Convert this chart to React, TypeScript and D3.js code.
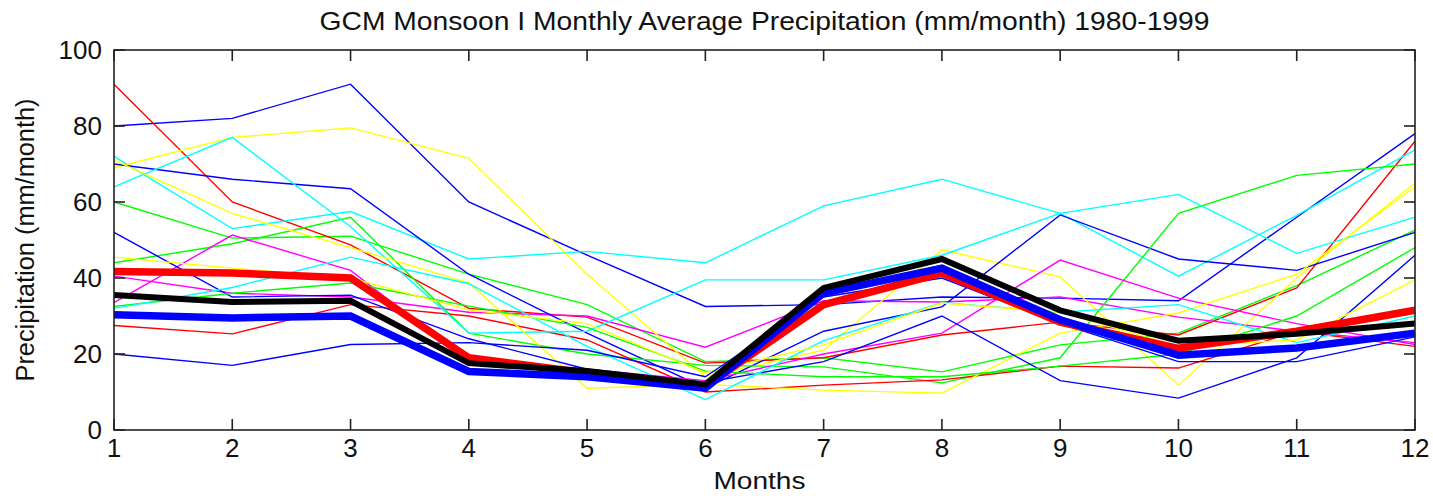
import React from "react";
import * as d3 from "d3";

// ---------- data ----------
const months = [1, 2, 3, 4, 5, 6, 7, 8, 9, 10, 11, 12];
const xTickLabels = ["1", "2", "3", "4", "5", "6", "7", "8", "9", "10", "11", "12"];
const yTickValues = [0, 20, 40, 60, 80, 100];
const yTickLabels = ["0", "20", "40", "60", "80", "100"];

const titleText = "GCM Monsoon I Monthly Average Precipitation (mm/month) 1980-1999";
const xLabelText = "Months";
const yLabelText = "Precipitation (mm/month)";

// thin model lines
const blue1 = [80, 82, 91, 60, 46, 32.5, 33, 35, 34.7, 34, 56, 78];
const blue2 = [70, 66, 63.5, 41, 25.5, 11, 26, 32.4, 56.6, 45, 42, 52];
const blue3 = [52, 35, 35.5, 24, 16, 12.5, 18, 30, 13, 8.4, 19, 46];
const blue4 = [20, 17, 22.5, 23, 21, 14, 35, 40, 28, 18, 18, 24.5];

const green1 = [60, 50.5, 51, 41, 33, 18, 19, 15.3, 22.4, 25.5, 38, 52.6];
const green2 = [44, 49, 56, 25.5, 20, 17, 16.6, 12.4, 19, 57, 67, 70];
const green3 = [32.5, 36, 38.7, 32.6, 27, 15.5, 14, 14, 16.8, 20, 30, 48];

const red1 = [91, 60, 48.7, 32, 29.7, 17.6, 19, 25, 28.4, 25, 37.4, 76];
const red2 = [27.5, 25.3, 33, 30, 23.7, 10, 11.8, 13.2, 16.8, 16.3, 26, 22];

const cyan1 = [72, 53, 57.5, 45, 47, 44, 59, 66, 57, 40.5, 56.5, 73.7];
const cyan2 = [64, 77, 53.5, 25.5, 26, 39.5, 39.5, 46, 57, 62, 46.5, 56];
const cyan3 = [32, 37.5, 45.5, 38.5, 22, 8, 23.5, 33.5, 31, 33, 23, 30];

const magenta1 = [40.5, 36, 35, 31, 30, 21.8, 34, 33.7, 35, 29.7, 26, 23];
const magenta2 = [33.5, 51.3, 42, 18, 16, 13, 20, 25.5, 44.7, 34.7, 28, 22.5];

const yellow1 = [69, 77, 79.5, 71.5, 41, 14, 21, 47.4, 40.3, 11.8, 40, 65];
const yellow2 = [71, 57, 48, 38.7, 11, 12, 10.5, 9.7, 25.5, 30.8, 41, 64];
const yellow3 = [45.5, 42.6, 40, 31.6, 28, 15, 22.4, 33.4, 31, 22, 23.7, 39.5];

// thick lines
const redThick = [41.7, 41.3, 40, 19, 15, 11.5, 33, 41.3, 28.4, 21.5, 26, 31.5];
const blueThick = [30.3, 29.5, 30, 15.4, 14, 11, 36, 42.6, 29, 19.7, 21.6, 25.5];
const blackThick = [35.5, 33.7, 34, 17.6, 15.5, 12, 37.4, 45, 31.5, 23.5, 25.3, 28];

const thinSeries = [
  { color: "blue", values: blue1 },
  { color: "green", values: green1 },
  { color: "red", values: red1 },
  { color: "cyan", values: cyan1 },
  { color: "magenta", values: magenta1 },
  { color: "yellow", values: yellow1 },
  { color: "blue", values: blue2 },
  { color: "green", values: green2 },
  { color: "red", values: red2 },
  { color: "cyan", values: cyan2 },
  { color: "magenta", values: magenta2 },
  { color: "yellow", values: yellow2 },
  { color: "blue", values: blue3 },
  { color: "green", values: green3 },
  { color: "cyan", values: cyan3 },
  { color: "yellow", values: yellow3 },
  { color: "blue", values: blue4 },
];

const thickSeries = [
  { color: "red", values: redThick },
  { color: "blue", values: blueThick },
  { color: "black", values: blackThick },
];

// ---------- styles ----------
const COLORS: Record<string, string> = {
  blue: "#0000ff",
  green: "#00ff00",
  red: "#ff0000",
  cyan: "#00ffff",
  magenta: "#ff00ff",
  yellow: "#ffff00",
  black: "#000000",
};
const THICK_W: Record<string, number> = { red: 7.5, blue: 7.5, black: 6 };

const W = 1433;
const H = 496;
const L = 114;
const R = 1415;
const T = 50;
const B = 430;
const FONT = "'Liberation Sans', Arial, Helvetica, sans-serif";

export default function App() {
  const x = d3.scaleLinear().domain([1, 12]).range([L, R]);
  const y = d3.scaleLinear().domain([0, 100]).range([B, T]);
  const line = d3
    .line<number>()
    .x((_, i) => x(months[i]))
    .y((d) => y(d));

  const tickLen = 11;

  return (
    <svg
      width={W}
      height={H}
      style={{ position: "absolute", left: 0, top: 0, background: "#fff" }}
      fontFamily={FONT}
    >
      <rect x={0} y={0} width={W} height={H} fill="#fff" />
      {/* thin lines */}
      <g fill="none" strokeLinejoin="miter">
        {thinSeries.map((s, i) => (
          <path key={"t" + i} d={line(s.values) || ""} stroke={COLORS[s.color]} strokeWidth={1.4} />
        ))}
      </g>
      {/* thick lines */}
      <g fill="none" strokeLinejoin="miter" strokeMiterlimit={4}>
        {thickSeries.map((s, i) => (
          <path key={"k" + i} d={line(s.values) || ""} stroke={COLORS[s.color]} strokeWidth={THICK_W[s.color]} />
        ))}
      </g>
      {/* axes box */}
      <rect x={L} y={T} width={R - L} height={B - T} fill="none" stroke="#222" strokeWidth={1.6} />
      {/* ticks */}
      <g stroke="#222" strokeWidth={1.6}>
        {months.map((m) => (
          <g key={"xt" + m}>
            <line x1={x(m)} x2={x(m)} y1={B} y2={B - tickLen} />
            <line x1={x(m)} x2={x(m)} y1={T} y2={T + tickLen} />
          </g>
        ))}
        {yTickValues.map((v) => (
          <g key={"yt" + v}>
            <line x1={L} x2={L + tickLen} y1={y(v)} y2={y(v)} />
            <line x1={R} x2={R - tickLen} y1={y(v)} y2={y(v)} />
          </g>
        ))}
      </g>
      {/* tick labels */}
      <g fontSize={26} fill="#111">
        {months.map((m, i) => (
          <text key={"xl" + m} x={x(m)} y={B + 27} textAnchor="middle">
            {xTickLabels[i]}
          </text>
        ))}
        {yTickValues.map((v, i) => (
          <text key={"yl" + v} x={L - 12} y={y(v) + 9} textAnchor="end">
            {yTickLabels[i]}
          </text>
        ))}
      </g>
      {/* title and axis labels */}
      <text
        x={(L + R) / 2}
        y={30}
        textAnchor="middle"
        fontSize={26}
        fill="#111"
        textLength={890}
        lengthAdjust="spacingAndGlyphs"
      >
        {titleText}
      </text>
      <text
        x={(L + R) / 2 - 5}
        y={489}
        textAnchor="middle"
        fontSize={24}
        fill="#111"
        textLength={92}
        lengthAdjust="spacingAndGlyphs"
      >
        {xLabelText}
      </text>
      <text
        transform={`translate(34, ${(T + B) / 2}) rotate(-90)`}
        textAnchor="middle"
        fontSize={26}
        fill="#111"
        textLength={283}
        lengthAdjust="spacingAndGlyphs"
      >
        {yLabelText}
      </text>
    </svg>
  );
}
